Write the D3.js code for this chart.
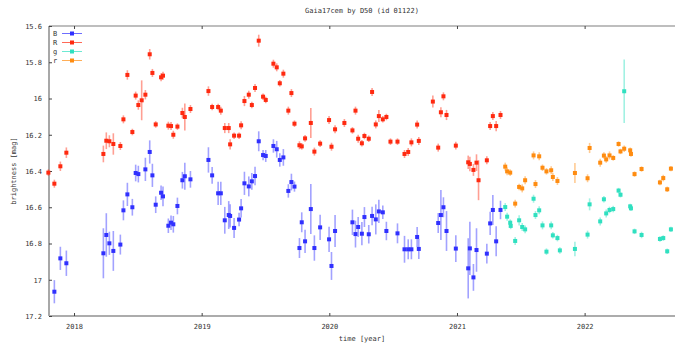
<!DOCTYPE html>
<html>
<head>
<meta charset="utf-8">
<script src="https://cdnjs.cloudflare.com/ajax/libs/d3/7.8.5/d3.min.js"></script>
<style>
	body { margin: 0; background: #fff; }
	text { font-family: "DejaVu Sans Mono", monospace; font-size: 7px; fill: #333; }
</style>
</head>
<body>
<svg width="675" height="345"></svg>
<script>
// chart text
var title = "Gaia17cem by D50 (id 01122)";
var xLabel = "time [year]";
var yLabel = "brightness [mag]";
var xTicks = [2018, 2019, 2020, 2021, 2022];
var yTicks = [15.6, 15.8, 16, 16.2, 16.4, 16.6, 16.8, 17, 17.2];
var seriesNames = ["B", "R", "g", "r"];
var seriesColors = ["#3030ff", "#ff2a10", "#30e0c0", "#ff8c10"];

// B band: time, mag, error
var B_time = [2017.846,2017.893,2017.940,2018.230,2018.253,2018.277,2018.308,2018.363,2018.387,2018.418,
	2018.457,2018.483,2018.504,2018.559,2018.593,2018.614,2018.640,2018.682,2018.697,2018.739,
	2018.760,2018.778,2018.810,2018.849,2018.868,2018.912,2019.053,2019.082,2019.129,2019.150,
	2019.181,2019.212,2019.223,2019.254,2019.293,2019.309,2019.335,2019.369,2019.393,2019.418,
	2019.447,2019.481,2019.502,2019.562,2019.588,2019.612,2019.640,2019.679,2019.703,2019.727,
	2019.766,2019.784,2019.810,2019.855,2019.883,2019.928,2019.998,2020.017,2020.045,2020.181,
	2020.205,2020.226,2020.255,2020.275,2020.309,2020.335,2020.364,2020.388,2020.419,2020.447,
	2020.534,2020.589,2020.618,2020.643,2020.688,2020.701,2020.853,2020.874,2020.894,2020.918,
	2020.991,2021.088,2021.101,2021.129,2021.153,2021.234,2021.260,2021.281,2021.307,2021.341];
var B_mag = [17.066,16.882,16.909,16.854,16.753,16.799,16.841,16.806,16.617,16.529,
	16.600,16.411,16.417,16.391,16.295,16.424,16.586,16.520,16.540,16.702,
	16.685,16.694,16.593,16.451,16.429,16.446,16.339,16.424,16.523,16.523,
	16.672,16.643,16.648,16.714,16.668,16.606,16.468,16.485,16.457,16.428,
	16.236,16.312,16.317,16.262,16.280,16.339,16.325,16.510,16.461,16.486,
	16.825,16.683,16.788,16.610,16.825,16.711,16.777,16.924,16.731,16.683,
	16.748,16.709,16.746,16.654,16.749,16.648,16.667,16.623,16.628,16.731,
	16.744,16.832,16.832,16.832,16.764,16.830,16.687,16.643,16.600,16.731,
	16.828,16.937,16.827,16.987,16.836,16.856,16.689,16.615,16.788,16.615];
var B_err = [.064,.064,.070,.138,.120,.064,.110,.055,.055,.064,
	.046,.046,.046,.064,.064,.064,.046,.040,.055,.040,
	.040,.046,.046,.046,.074,.046,.070,.046,.064,.064,
	.074,.077,.064,.055,.037,.051,.064,.055,.046,.051,
	.055,.028,.033,.037,.046,.037,.046,.037,.046,.028,
	.055,.055,.064,.138,.070,.070,.070,.077,.088,.070,
	.074,.055,.064,.055,.051,.051,.083,.064,.037,.051,
	.055,.074,.055,.055,.055,.055,.055,.138,.055,.110,
	.074,.166,.147,.074,.120,.055,.064,.083,.083,.051];

// R band
var R_time = [2017.799,2017.846,2017.893,2017.940,2018.230,2018.253,2018.277,2018.308,2018.363,2018.387,
	2018.418,2018.457,2018.483,2018.504,2018.530,2018.559,2018.593,2018.614,2018.640,2018.682,
	2018.697,2018.739,2018.760,2018.778,2018.810,2018.849,2018.868,2018.912,2019.053,2019.082,
	2019.129,2019.150,2019.181,2019.212,2019.223,2019.254,2019.293,2019.309,2019.335,2019.369,
	2019.393,2019.418,2019.447,2019.481,2019.502,2019.562,2019.588,2019.612,2019.640,2019.679,
	2019.703,2019.727,2019.766,2019.784,2019.810,2019.855,2019.883,2019.928,2019.998,2020.017,
	2020.045,2020.118,2020.181,2020.205,2020.226,2020.255,2020.275,2020.309,2020.335,2020.364,
	2020.388,2020.419,2020.447,2020.479,2020.534,2020.589,2020.618,2020.643,2020.688,2020.701,
	2020.811,2020.853,2020.874,2020.894,2020.918,2020.991,2021.088,2021.101,2021.129,2021.153,
	2021.169,2021.234,2021.260,2021.281,2021.307,2021.341];
var R_mag = [16.409,16.470,16.374,16.299,16.306,16.233,16.236,16.251,16.262,16.115,
	15.870,16.185,15.984,16.036,16.010,15.979,15.756,15.859,16.143,15.883,
	15.874,16.150,16.152,16.200,16.155,16.080,16.102,16.058,15.959,16.047,
	16.047,16.067,16.163,16.163,16.253,16.205,16.205,16.148,16.014,15.979,
	16.036,15.942,15.681,15.990,16.008,15.808,15.828,15.916,15.863,16.067,
	15.970,16.139,16.258,16.264,16.220,16.135,16.293,16.249,16.119,16.266,
	16.170,16.135,16.176,16.067,16.222,16.247,16.207,16.222,15.964,16.143,
	16.097,16.115,16.102,16.238,16.238,16.306,16.295,16.242,16.144,16.234,
	16.017,16.271,16.076,15.988,16.091,16.260,16.352,16.361,16.394,16.354,
	16.451,16.341,16.152,16.097,16.152,16.091];
var R_err = [.018,.022,.026,.029,.046,.046,.033,.059,.022,.022,
	.026,.018,.022,.026,.110,.026,.029,.022,.018,.022,
	.022,.022,.022,.022,.018,.029,.074,.022,.026,.018,
	.018,.022,.028,.028,.028,.018,.018,.022,.028,.022,
	.018,.022,.033,.018,.018,.022,.022,.018,.022,.022,
	.022,.018,.022,.018,.018,.083,.022,.018,.022,.022,
	.022,.022,.018,.022,.022,.018,.018,.018,.022,.022,
	.033,.018,.018,.018,.018,.022,.022,.022,.022,.022,
	.033,.022,.028,.022,.028,.022,.037,.040,.033,.046,
	.110,.022,.022,.022,.028,.022];

// g band
var g_time = [2021.378,2021.393,2021.417,2021.421,2021.456,2021.487,2021.511,2021.534,2021.600,2021.615,
	2021.644,2021.670,2021.701,2021.738,2021.751,2021.787,2021.806,2021.924,2022.023,2022.039,
	2022.122,2022.151,2022.169,2022.195,2022.224,2022.266,2022.281,2022.310,2022.357,2022.363,
	2022.391,2022.446,2022.590,2022.616,2022.647,2022.676];
var g_mag = [16.599,16.652,16.685,16.703,16.786,16.672,16.709,16.722,16.553,16.643,
	16.617,16.700,16.845,16.700,16.755,16.770,16.838,16.830,16.751,16.584,
	16.678,16.556,16.634,16.615,16.610,16.508,16.531,15.960,16.595,16.606,
	16.733,16.753,16.775,16.770,16.843,16.722];
var g_err = [.022,.022,.018,.018,.022,.028,.022,.022,.022,.022,
	.022,.022,.018,.022,.018,.018,.018,.040,.022,.033,
	.022,.018,.022,.018,.018,.015,.015,.175,.015,.015,
	.015,.018,.015,.015,.015,.015];

// r band
var r_time = [2021.378,2021.393,2021.417,2021.456,2021.487,2021.511,2021.534,2021.600,2021.615,2021.644,
	2021.670,2021.701,2021.738,2021.751,2021.787,2021.924,2022.023,2022.039,2022.122,2022.151,
	2022.169,2022.195,2022.224,2022.266,2022.281,2022.310,2022.357,2022.363,2022.391,2022.446,
	2022.590,2022.616,2022.647,2022.676];
var r_mag = [16.376,16.402,16.409,16.580,16.488,16.496,16.451,16.314,16.472,16.319,
	16.382,16.402,16.396,16.433,16.455,16.411,16.440,16.273,16.354,16.315,
	16.336,16.314,16.328,16.251,16.292,16.277,16.286,16.306,16.417,16.389,
	16.463,16.439,16.501,16.387];
var r_err = [.022,.022,.018,.022,.018,.022,.022,.022,.022,.022,
	.018,.018,.022,.022,.022,.055,.022,.028,.022,.018,
	.018,.022,.015,.015,.015,.018,.015,.015,.015,.015,
	.015,.018,.015,.015];

var layout = {left: 49, right: 675, top: 26, bottom: 316};

var svg = d3.select("svg");

var xScale = d3.scaleLinear()
				.domain([2017.804, 2022.708])
				.range([layout.left, layout.right]);
var yScale = d3.scaleLinear()
				.domain([15.6, 17.2])
				.range([layout.top, layout.bottom]);

// build the series from the arrays
var series = [
	{name: "B", time: B_time, mag: B_mag, err: B_err},
	{name: "R", time: R_time, mag: R_mag, err: R_err},
	{name: "g", time: g_time, mag: g_mag, err: g_err},
	{name: "r", time: r_time, mag: r_mag, err: r_err}
];
series.forEach(function(s, i){
	s.color = seriesColors[i];
	s.points = s.time.map(function(t, j){
		return {t: t, m: s.mag[j], e: s.err[j]};
	});
});

// frame
var frame = svg.append("g").attr("id", "frame");
frame.append("line")
	.attr("x1", layout.left).attr("x2", layout.right)
	.attr("y1", layout.top).attr("y2", layout.top)
	.attr("stroke", "#a8a8a8").attr("stroke-width", 1.5);
frame.append("line")
	.attr("x1", layout.left).attr("x2", layout.right)
	.attr("y1", layout.bottom).attr("y2", layout.bottom)
	.attr("stroke", "#909090").attr("stroke-width", 1.5);
frame.append("line")
	.attr("x1", layout.left).attr("x2", layout.left)
	.attr("y1", layout.top).attr("y2", layout.bottom)
	.attr("stroke", "#a8a8a8").attr("stroke-width", 2);

// x axis ticks, bottom and top
var xAxis = d3.axisBottom(xScale)
				.tickValues(xTicks)
				.tickFormat(d3.format("d"))
				.tickSizeInner(-3)
				.tickSizeOuter(0)
				.tickPadding(8);
var gx = svg.append("g")
			.attr("transform", "translate(0," + layout.bottom + ")")
			.call(xAxis);
gx.select(".domain").remove();
gx.selectAll(".tick line").attr("stroke", "#444");
gx.selectAll(".tick text").style("font-family", null).style("font-size", null).attr("fill", "#333");
svg.append("g")
	.attr("transform", "translate(0," + layout.top + ")")
	.call(d3.axisTop(xScale).tickValues(xTicks).tickSizeInner(-3).tickSizeOuter(0).tickFormat(""))
	.call(function(g){
		g.select(".domain").remove();
		g.selectAll(".tick line").attr("stroke", "#444");
	});

// y axis ticks
var yAxis = d3.axisLeft(yScale)
				.tickValues(yTicks)
				.tickFormat(d3.format("~g"))
				.tickSizeInner(-3)
				.tickSizeOuter(0)
				.tickPadding(7);
var gy = svg.append("g")
			.attr("transform", "translate(" + layout.left + ",0)")
			.call(yAxis);
gy.select(".domain").remove();
gy.selectAll(".tick line").attr("stroke", "#444");
gy.selectAll(".tick text").attr("fill", "#333");
svg.selectAll(".tick text").attr("font-family", null).attr("font-size", null);

// labels
svg.append("text")
	.attr("x", 362).attr("y", 13)
	.attr("text-anchor", "middle")
	.text(title);
svg.append("text")
	.attr("x", 362).attr("y", 341)
	.attr("text-anchor", "middle")
	.text(xLabel);
svg.append("text")
	.attr("transform", "translate(16," + (layout.top + layout.bottom) / 2 + ") rotate(-90)")
	.attr("text-anchor", "middle")
	.text(yLabel);

// data: error bars then points
var plot = svg.append("g").attr("id", "plot");
series.forEach(function(s){
	var g = plot.append("g").attr("class", "series_" + s.name);
	g.selectAll("line")
		.data(s.points)
		.enter().append("line")
		.attr("x1", function(d){ return xScale(d.t); })
		.attr("x2", function(d){ return xScale(d.t); })
		.attr("y1", function(d){ return yScale(d.m - d.e); })
		.attr("y2", function(d){ return yScale(d.m + d.e); })
		.attr("stroke", s.color)
		.attr("stroke-opacity", 0.45)
		.attr("stroke-width", 1.6);
	g.selectAll("rect")
		.data(s.points)
		.enter().append("rect")
		.attr("x", function(d){ return xScale(d.t) - 2; })
		.attr("y", function(d){ return yScale(d.m) - 2; })
		.attr("width", 4)
		.attr("height", 4)
		.attr("fill", s.color);
});

// legend
var legend = svg.append("g").attr("id", "legend");
seriesNames.forEach(function(name, i){
	var y = 33.5 + i * 9;
	legend.append("text")
		.attr("x", 53).attr("y", y + 2.5)
		.text(name);
	legend.append("line")
		.attr("x1", 62).attr("x2", 82)
		.attr("y1", y).attr("y2", y)
		.attr("stroke", seriesColors[i])
		.attr("stroke-opacity", 0.7)
		.attr("stroke-width", 1);
	legend.append("rect")
		.attr("x", 70).attr("y", y - 2)
		.attr("width", 4).attr("height", 4)
		.attr("fill", seriesColors[i]);
});
</script>
</body>
</html>
